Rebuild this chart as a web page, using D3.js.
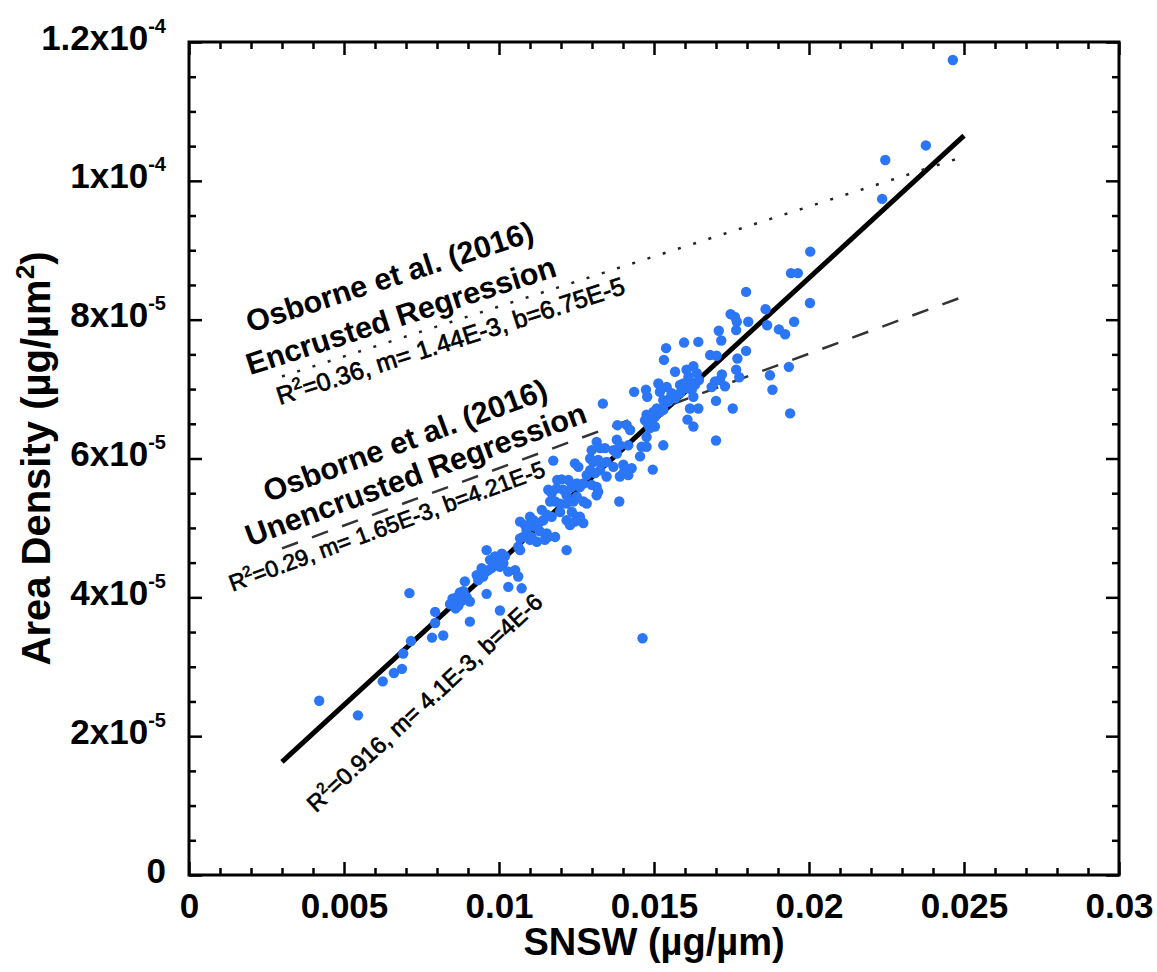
<!DOCTYPE html>
<html>
<head>
<meta charset="utf-8">
<script src="https://cdn.jsdelivr.net/npm/d3@7"></script>
<style>
  body { margin: 0; background: #fff; }
  svg { display: block; font-family: "Liberation Sans", Arial, sans-serif; }
</style>
</head>
<body>
<svg id="chart"></svg>
<script>
// measured shell weight vs area density, one entry per foram
const snsw = [
  0.00711, 0.00420, 0.00545, 0.00625, 0.00661, 0.00687, 0.00691, 0.00716, 0.00784, 0.00820,
  0.00794, 0.00794, 0.00906, 0.00890, 0.00928, 0.00933, 0.00874, 0.00885, 0.00890, 0.00850,
  0.00863, 0.00880, 0.00896, 0.00906, 0.00842, 0.00860, 0.00869,
  0.01175, 0.01245, 0.01188, 0.01202, 0.01224, 0.01159, 0.01170, 0.01186, 0.01207, 0.01218,
  0.01235, 0.01251, 0.01165, 0.01181, 0.01197, 0.01218, 0.01240, 0.01251, 0.01138, 0.01154,
  0.01170, 0.01197, 0.01235, 0.01251, 0.01100, 0.01111, 0.01127, 0.01143, 0.01068, 0.01084,
  0.01089, 0.01116, 0.01132, 0.01218, 0.01229, 0.01245, 0.01068, 0.01078, 0.01100, 0.01105,
  0.01122, 0.01148, 0.01159, 0.01154, 0.01181, 0.01218, 0.01062, 0.01068, 0.00960, 0.00971,
  0.00987, 0.01009, 0.01019, 0.01014, 0.00993, 0.01003, 0.00944, 0.00955, 0.00965, 0.00976,
  0.01030, 0.01052, 0.01062, 0.00949, 0.01030, 0.01073, 0.00960, 0.01003,
  0.01539, 0.01597, 0.01643, 0.01532, 0.01568, 0.01605, 0.01627, 0.01638, 0.01611, 0.01514,
  0.01519, 0.01541, 0.01584, 0.01595, 0.01616, 0.01632, 0.01605, 0.01622, 0.01436, 0.01474,
  0.01478, 0.01557, 0.01552, 0.01568, 0.01584, 0.01530, 0.01535, 0.01546, 0.01616, 0.01643,
  0.01335, 0.01509, 0.01498, 0.01519, 0.01530, 0.01476, 0.01487, 0.01471, 0.01503, 0.01608,
  0.01627, 0.01482, 0.01487, 0.01503, 0.01412, 0.01423, 0.01476, 0.01382, 0.01315, 0.01380,
  0.01390, 0.01417, 0.01460, 0.01476, 0.01530, 0.01299, 0.01326, 0.01342, 0.01369, 0.01380,
  0.01455, 0.01294, 0.01304, 0.01320, 0.01331, 0.01347, 0.01256, 0.01369, 0.01401, 0.01406,
  0.01428, 0.01496, 0.01294, 0.01310, 0.01283, 0.01326, 0.01347, 0.01390, 0.01401, 0.01417,
  0.01272, 0.01261, 0.01299, 0.01315, 0.01320, 0.01315, 0.01272, 0.01283, 0.01388, 0.01261,
  0.01272,
  0.01942, 0.01964, 0.01797, 0.02003, 0.01860, 0.01747, 0.01761, 0.01767, 0.01765, 0.01804,
  0.01865, 0.01952, 0.01903, 0.01923, 0.01709, 0.01717, 0.01797, 0.01681, 0.01702, 0.01769,
  0.01765, 0.01719, 0.01775, 0.01935, 0.01874, 0.01645, 0.01697, 0.01713, 0.01729, 0.01686,
  0.01627, 0.01882, 0.01700, 0.01754, 0.01939, 0.01700,
  0.02464, 0.02377, 0.02246, 0.02236, 0.02004, 0.01463
];

const areaDensity = [
  4.06e-5, 2.51e-5, 2.30e-5, 2.79e-5, 2.91e-5, 2.97e-5, 3.19e-5, 3.37e-5, 3.42e-5, 3.45e-5,
  3.63e-5, 3.79e-5, 3.65e-5, 4.23e-5, 4.32e-5, 4.25e-5, 4.07e-5, 4.09e-5, 4.03e-5, 3.98e-5,
  4.00e-5, 3.95e-5, 4.00e-5, 3.94e-5, 3.90e-5, 3.84e-5, 3.88e-5,
  5.97e-5, 5.93e-5, 5.69e-5, 5.70e-5, 5.69e-5, 5.55e-5, 5.50e-5, 5.57e-5, 5.55e-5, 5.47e-5,
  5.59e-5, 5.64e-5, 5.38e-5, 5.38e-5, 5.35e-5, 5.35e-5, 5.38e-5, 5.45e-5, 5.26e-5, 5.19e-5,
  5.16e-5, 5.23e-5, 5.23e-5, 5.16e-5, 5.16e-5, 5.11e-5, 5.07e-5, 5.11e-5, 5.09e-5, 5.04e-5,
  4.97e-5, 5.02e-5, 4.95e-5, 5.11e-5, 5.04e-5, 5.09e-5, 4.85e-5, 4.87e-5, 4.83e-5, 4.87e-5,
  4.80e-5, 4.83e-5, 4.87e-5, 4.92e-5, 4.87e-5, 4.68e-5, 4.73e-5, 4.68e-5, 4.68e-5, 4.54e-5,
  4.59e-5, 4.63e-5, 4.59e-5, 4.49e-5, 4.51e-5, 4.44e-5, 4.42e-5, 4.37e-5, 4.39e-5, 4.42e-5,
  4.37e-5, 4.39e-5, 4.30e-5, 4.30e-5, 4.15e-5, 4.13e-5, 4.05e-5, 3.81e-5,
  7.59e-5, 7.67e-5, 7.68e-5, 7.42e-5, 7.25e-5, 7.28e-5, 7.33e-5, 7.23e-5, 7.18e-5, 7.08e-5,
  6.96e-5, 7.03e-5, 7.06e-5, 7.08e-5, 7.11e-5, 7.06e-5, 7.01e-5, 6.99e-5, 6.96e-5, 6.99e-5,
  6.89e-5, 6.94e-5, 6.87e-5, 6.87e-5, 6.94e-5, 6.84e-5, 6.80e-5, 6.82e-5, 6.72e-5, 6.72e-5,
  6.79e-5, 6.72e-5, 6.67e-5, 6.67e-5, 6.70e-5, 6.63e-5, 6.58e-5, 6.55e-5, 6.60e-5, 6.56e-5,
  6.46e-5, 6.48e-5, 6.44e-5, 6.46e-5, 6.48e-5, 6.41e-5, 6.31e-5, 6.48e-5, 6.24e-5, 6.27e-5,
  6.19e-5, 6.19e-5, 6.17e-5, 6.17e-5, 6.19e-5, 6.12e-5, 6.15e-5, 6.15e-5, 6.12e-5, 6.07e-5,
  6.03e-5, 6.00e-5, 5.95e-5, 5.98e-5, 5.93e-5, 5.95e-5, 5.88e-5, 5.88e-5, 5.91e-5, 5.86e-5,
  5.86e-5, 5.84e-5, 5.83e-5, 5.79e-5, 5.76e-5, 5.83e-5, 5.74e-5, 5.74e-5, 5.79e-5, 5.76e-5,
  5.64e-5, 5.59e-5, 5.62e-5, 5.59e-5, 5.52e-5, 5.47e-5, 5.38e-5, 5.35e-5, 5.38e-5, 5.16e-5,
  5.07e-5,
  8.67e-5, 8.67e-5, 8.40e-5, 8.24e-5, 8.15e-5, 8.08e-5, 8.04e-5, 7.97e-5, 7.85e-5, 7.97e-5,
  7.92e-5, 7.97e-5, 7.86e-5, 7.79e-5, 7.84e-5, 7.70e-5, 7.55e-5, 7.49e-5, 7.48e-5, 7.44e-5,
  7.28e-5, 7.21e-5, 7.17e-5, 7.32e-5, 7.20e-5, 7.13e-5, 7.11e-5, 7.13e-5, 7.04e-5, 7.03e-5,
  6.89e-5, 6.99e-5, 6.83e-5, 6.72e-5, 6.65e-5, 6.26e-5,
  1.174e-4, 1.051e-4, 1.030e-4, 9.74e-5, 8.98e-5, 3.41e-5
];

// regression lines: this study, Osborne encrusted, Osborne unencrusted
const fitSlopes = [4.1e-3, 1.44e-3, 1.65e-3];
const fitIntercepts = [4e-6, 6.75e-5, 4.21e-5];
const fitStart = [0.003, 0.003, 0.003];
const fitEnd = [0.025, 0.025, 0.025];
const fitR2 = ["0.916", "0.36", "0.29"];
const fitMLabel = ["4.1E-3", "1.44E-3", "1.65E-3"];
const fitBLabel = ["4E-6", "6.75E-5", "4.21E-5"];
const fitTitles = [[], ["Osborne et al. (2016)", "Encrusted Regression"], ["Osborne et al. (2016)", "Unencrusted Regression"]];

const xTicks = [0, 0.005, 0.01, 0.015, 0.02, 0.025, 0.03];
const xTickLabels = ["0", "0.005", "0.01", "0.015", "0.02", "0.025", "0.03"];
const yTicks = [0, 2e-5, 4e-5, 6e-5, 8e-5, 1e-4, 1.2e-4];
const yTickBase = ["0", "2x10", "4x10", "6x10", "8x10", "1x10", "1.2x10"];
const yTickExp = ["", "-5", "-5", "-5", "-5", "-4", "-4"];

const width = 1157;
const height = 972;
const margin = { top: 42, right: 38, bottom: 97, left: 189 };
const majorSize = 13;
const minorSize = 7;

const fitStyles = [
  { color: "#000", width: 5, dash: null },
  { color: "#222", width: 2.5, dash: "3,13" },
  { color: "#333", width: 2.5, dash: "17,15" }
];

// where each annotation line starts (data units) and how big it is
const titleAnchors = [[], [[0.00197, 7.81e-5], [0.00197, 7.20e-5]], [[0.00255, 5.37e-5], [0.00197, 4.73e-5]]];
const r2Anchors = [[0.00410, 8.9e-6], [0.00293, 6.77e-5], [0.00140, 4.08e-5]];
const r2Sizes = [23.5, 25, 23];

const svg = d3.select("#chart")
  .attr("width", width)
  .attr("height", height);

const xScale = d3.scaleLinear()
  .domain([0, 0.03])
  .range([margin.left, width - margin.right]);

const yScale = d3.scaleLinear()
  .domain([0, 1.2e-4])
  .range([height - margin.bottom, margin.top]);

const xMinor = d3.range(0, 31).filter(d => d % 5 !== 0).map(d => d / 1000);
const yMinor = d3.range(0, 25).filter(d => d % 4 !== 0).map(d => d * 5e-6);

// ticks on all four sides, pointing in
const addTicks = (axis, transform, values, size) => {
  const g = svg.append("g")
    .attr("transform", transform)
    .call(axis.tickValues(values).tickSizeInner(-size).tickSizeOuter(0).tickFormat(""));
  g.select(".domain").remove();
  g.selectAll(".tick line")
    .attr("stroke", "#000")
    .attr("stroke-width", 2.5);
  return g;
};

const bottomY = height - margin.bottom;
const rightX = width - margin.right;

addTicks(d3.axisBottom(xScale), `translate(0,${bottomY})`, xMinor, minorSize);
addTicks(d3.axisTop(xScale), `translate(0,${margin.top})`, xMinor, minorSize);
addTicks(d3.axisTop(xScale), `translate(0,${margin.top})`, xTicks, majorSize);
addTicks(d3.axisLeft(yScale), `translate(${margin.left},0)`, yMinor, minorSize);
addTicks(d3.axisRight(yScale), `translate(${rightX},0)`, yMinor, minorSize);
addTicks(d3.axisRight(yScale), `translate(${rightX},0)`, yTicks, majorSize);

const xAxis = svg.append("g")
  .attr("transform", `translate(0,${bottomY})`)
  .call(d3.axisBottom(xScale)
    .tickValues(xTicks)
    .tickSizeInner(-majorSize)
    .tickSizeOuter(0)
    .tickPadding(18)
    .tickFormat((d, i) => xTickLabels[i]));
xAxis.select(".domain").remove();
xAxis.selectAll(".tick line").attr("stroke", "#000").attr("stroke-width", 2.5);
xAxis.selectAll(".tick text")
  .attr("fill", "#000")
  .attr("font-family", "Liberation Sans, Arial, sans-serif")
  .attr("font-size", 35)
  .attr("font-weight", "bold");

const yAxis = svg.append("g")
  .attr("transform", `translate(${margin.left},0)`)
  .call(d3.axisLeft(yScale)
    .tickValues(yTicks)
    .tickSizeInner(-majorSize)
    .tickSizeOuter(0)
    .tickPadding(23)
    .tickFormat(""));
yAxis.select(".domain").remove();
yAxis.selectAll(".tick line").attr("stroke", "#000").attr("stroke-width", 2.5);
yAxis.selectAll(".tick text")
  .attr("fill", "#000")
  .attr("font-family", "Liberation Sans, Arial, sans-serif")
  .attr("font-size", 35)
  .attr("font-weight", "bold")
  .attr("dy", 7)
  .each(function (d, i) {
    const t = d3.select(this);
    t.append("tspan").text(yTickBase[i]);
    if (yTickExp[i]) {
      t.append("tspan").attr("font-size", 20).attr("dy", -17).text(yTickExp[i]);
    }
  });

// frame
svg.append("rect")
  .attr("x", margin.left)
  .attr("y", margin.top)
  .attr("width", rightX - margin.left)
  .attr("height", bottomY - margin.top)
  .attr("fill", "none")
  .attr("stroke", "#000")
  .attr("stroke-width", 3);

// regression lines
const line = d3.line()
  .x(d => xScale(d.x))
  .y(d => yScale(d.y));

fitSlopes.forEach((m, i) => {
  const ends = [fitStart[i], fitEnd[i]].map(x => ({ x, y: m * x + fitIntercepts[i] }));
  svg.append("path")
    .datum(ends)
    .attr("fill", "none")
    .attr("stroke", fitStyles[i].color)
    .attr("stroke-width", fitStyles[i].width)
    .attr("stroke-dasharray", fitStyles[i].dash)
    .attr("d", line);
});

// points
svg.append("g")
  .selectAll("circle")
  .data(snsw.map((x, i) => ({ x, y: areaDensity[i] })))
  .enter().append("circle")
  .attr("cx", d => xScale(d.x))
  .attr("cy", d => yScale(d.y))
  .attr("r", 5.2)
  .attr("fill", "#2a76f6");

// annotation angle follows the line it describes
const fitAngle = (i) => {
  const dx = xScale(0.01) - xScale(0);
  const dy = yScale(fitSlopes[i] * 0.01) - yScale(0);
  return Math.atan2(dy, dx) * 180 / Math.PI;
};

fitSlopes.forEach((m, i) => {
  const angle = fitAngle(i);
  fitTitles[i].forEach((title, j) => {
    const [ax, ay] = titleAnchors[i][j];
    svg.append("text")
      .attr("transform", `translate(${xScale(ax)},${yScale(ay)}) rotate(${angle})`)
      .attr("font-size", 30.5)
      .attr("font-weight", "bold")
      .attr("fill", "#000")
      .text(title);
  });

  // the fit statistics are a bit heavier than regular weight
  const [rx, ry] = r2Anchors[i];
  const size = r2Sizes[i];
  const r2 = svg.append("text")
    .attr("transform", `translate(${xScale(rx)},${yScale(ry)}) rotate(${angle})`)
    .attr("font-size", size)
    .attr("fill", "#000")
    .attr("stroke", "#000")
    .attr("stroke-width", 0.7);
  r2.append("tspan").text("R");
  r2.append("tspan").attr("font-size", size * 0.65).attr("dy", -size * 0.4).text("2");
  r2.append("tspan").attr("dy", size * 0.4).text(`=${fitR2[i]}, m= ${fitMLabel[i]}, b=${fitBLabel[i]}`);
});

// axis titles
svg.append("text")
  .attr("x", (margin.left + rightX) / 2)
  .attr("y", 955)
  .attr("text-anchor", "middle")
  .attr("font-size", 38)
  .attr("font-weight", "bold")
  .text("SNSW (\u00b5g/\u00b5m)");

const yTitle = svg.append("text")
  .attr("transform", `translate(50,${(margin.top + bottomY) / 2}) rotate(-90)`)
  .attr("text-anchor", "middle")
  .attr("font-size", 40)
  .attr("font-weight", "bold");
yTitle.append("tspan").text("Area Density (\u00b5g/\u00b5m");
yTitle.append("tspan").attr("font-size", 26).attr("dy", -16).text("2");
yTitle.append("tspan").attr("dy", 16).text(")");
</script>
</body>
</html>
